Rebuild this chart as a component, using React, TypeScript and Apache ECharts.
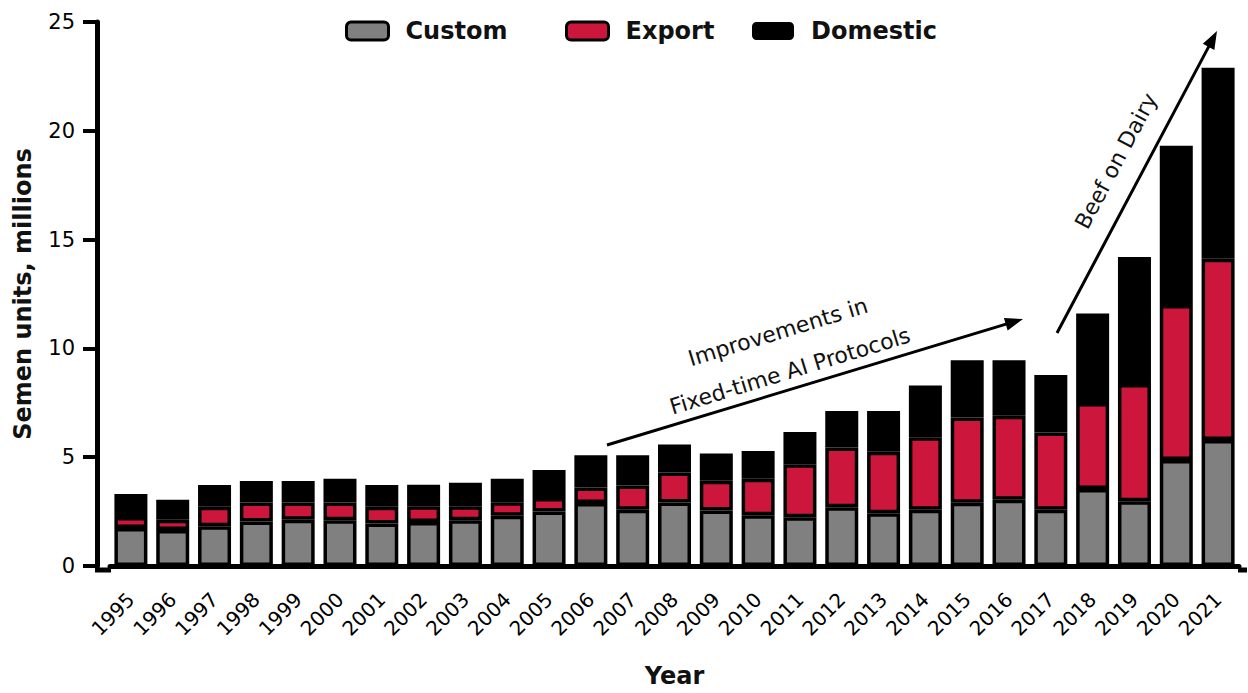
import React, { useEffect, useRef } from "react";
import * as echarts from "echarts";

const years = [
  "1995", "1996", "1997", "1998", "1999", "2000", "2001", "2002", "2003",
  "2004", "2005", "2006", "2007", "2008", "2009", "2010", "2011", "2012",
  "2013", "2014", "2015", "2016", "2017", "2018", "2019", "2020", "2021",
];

const custom = [
  1.75, 1.66, 1.83, 2.04, 2.13, 2.1, 1.95, 2.02, 2.1, 2.31, 2.51, 2.89, 2.59,
  2.92, 2.55, 2.33, 2.24, 2.7, 2.42, 2.58, 2.91, 3.05, 2.58, 3.54, 2.97, 4.87,
  5.79,
];

const exportVals = [
  0.5, 0.47, 0.89, 0.88, 0.79, 0.82, 0.77, 0.73, 0.65, 0.62, 0.62, 0.72, 1.11,
  1.38, 1.37, 1.68, 2.44, 2.75, 2.83, 3.34, 3.91, 3.86, 3.55, 3.95, 5.39, 7.12,
  8.33,
];

const domestic = [
  1.06, 0.91, 1.0, 0.99, 0.99, 1.09, 1.0, 0.98, 1.08, 1.08, 1.28, 1.48, 1.39,
  1.28, 1.25, 1.27, 1.48, 1.67, 1.87, 2.37, 2.64, 2.55, 2.65, 4.11, 5.84, 7.32,
  8.78,
];

const seriesNames = ["Custom", "Export", "Domestic"];
const seriesColors = ["#808080", "#CD163C", "#000000"];

const FONT = "DejaVu Sans";

function arrow(x1: number, y1: number, x2: number, y2: number) {
  const dx = x2 - x1;
  const dy = y2 - y1;
  const len = Math.sqrt(dx * dx + dy * dy);
  const ux = dx / len;
  const uy = dy / len;
  const headLen = 18;
  const headHalf = 6.5;
  const bx = x2 - ux * headLen;
  const by = y2 - uy * headLen;
  const px = -uy;
  const py = ux;
  return [
    {
      type: "line",
      shape: { x1, y1, x2: bx + ux * 2, y2: by + uy * 2 },
      style: { stroke: "#000", lineWidth: 3 },
      silent: true,
    },
    {
      type: "polygon",
      shape: {
        points: [
          [x2, y2],
          [bx + px * headHalf, by + py * headHalf],
          [bx - px * headHalf, by - py * headHalf],
        ],
      },
      style: { fill: "#000" },
      silent: true,
    },
  ];
}

function note(text: string, x: number, y: number, deg: number) {
  return {
    type: "text",
    x,
    y,
    rotation: (deg * Math.PI) / 180,
    silent: true,
    style: {
      text,
      fontFamily: FONT,
      fontSize: 22,
      fill: "#111",
      align: "center",
      verticalAlign: "middle",
    },
  };
}

export default function App() {
  const ref = useRef<HTMLDivElement>(null);

  useEffect(() => {
    if (!ref.current) return;
    const chart = echarts.init(ref.current, null, { renderer: "svg" });
    const values = [custom, exportVals, domestic];

    const legendLefts = [345, 565, 752];

    const option: any = {
      animation: false,
      backgroundColor: "#fff",
      textStyle: { fontFamily: FONT },
      grid: { left: 110, right: 9, top: 22, bottom: 123, containLabel: false },
      legend: seriesNames.map((n, i) => ({
        data: [n],
        left: legendLefts[i],
        top: 19,
        padding: 0,
        itemWidth: 42,
        itemHeight: 18,
        itemStyle: { borderColor: "#000", borderWidth: i === 2 ? 0 : 3 },
        textStyle: {
          fontFamily: FONT,
          fontSize: 24,
          fontWeight: "bold",
          color: "#111",
          padding: [0, 0, 0, 12],
        },
        selectedMode: false,
      })),
      xAxis: {
        type: "category",
        data: years,
        name: "Year",
        nameLocation: "middle",
        nameGap: 98,
        nameTextStyle: {
          fontFamily: FONT,
          fontSize: 24,
          fontWeight: "bold",
          color: "#111",
        },
        axisLine: { lineStyle: { color: "#000", width: 5 } },
        axisTick: {
          alignWithLabel: true,
          length: 15,
          lineStyle: { color: "#000", width: 3 },
        },
        axisLabel: {
          rotate: 45,
          margin: 30,
          fontFamily: FONT,
          fontSize: 20,
          color: "#000",
          interval: 0,
        },
      },
      yAxis: {
        type: "value",
        min: 0,
        max: 25,
        interval: 5,
        offset: 13,
        name: "Semen units, millions",
        nameLocation: "middle",
        nameGap: 62,
        nameTextStyle: {
          fontFamily: FONT,
          fontSize: 24,
          fontWeight: "bold",
          color: "#111",
        },
        axisLine: { show: true, lineStyle: { color: "#000", width: 5 } },
        axisTick: {
          show: true,
          length: 14,
          lineStyle: { color: "#000", width: 4 },
        },
        axisLabel: {
          margin: 22,
          fontFamily: FONT,
          fontSize: 21,
          color: "#000",
        },
        splitLine: { show: false },
      },
      series: seriesNames.map((n, i) => ({
        name: n,
        type: "bar",
        stack: "total",
        data: values[i],
        barWidth: 33,
        itemStyle: {
          color: seriesColors[i],
          borderColor: "#000",
          borderWidth: 3.5,
        },
      })),
      graphic: [
        {
          type: "line",
          shape: { x1: 95, y1: 570, x2: 111, y2: 570 },
          style: { stroke: "#000", lineWidth: 5 },
          silent: true,
        },
        {
          type: "line",
          shape: { x1: 1238, y1: 570, x2: 1247, y2: 570 },
          style: { stroke: "#000", lineWidth: 5 },
          silent: true,
        },
        ...arrow(607, 445, 1023, 319),
        ...arrow(1057, 333, 1217, 31),
        note("Improvements in", 778, 332, 17),
        note("Fixed-time AI Protocols", 790, 371, 17),
        note("Beef on Dairy", 1116, 161, 62),
      ],
    };

    chart.setOption(option);
    return () => chart.dispose();
  }, []);

  return (
    <div
      ref={ref}
      style={{ position: "absolute", left: 0, top: 0, width: 1248, height: 693 }}
    />
  );
}
